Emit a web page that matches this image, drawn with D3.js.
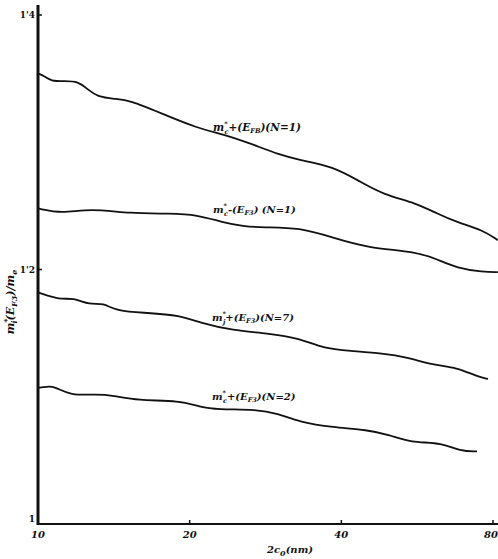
<!DOCTYPE html>
<html>
<head>
<meta charset="utf-8">
<script src="https://cdn.jsdelivr.net/npm/d3@7"></script>
<style>
  body { margin: 0; background: #fff; }
  svg { display: block; }
  .lbl { font-family: "DejaVu Serif", serif; font-style: italic; font-weight: bold; fill: #111; }
  .line { fill: none; stroke: #111; stroke-width: 1.8; }
</style>
</head>
<body>
<div id="chart"></div>
<script>
"use strict";

// tick values and labels
var xTicks = [10, 20, 40, 80],
    xTickLabels = ["10", "20", "40", "80"],
    yTicks = [1, 1.2, 1.4],
    yTickLabels = ["1", "1'2", "1'4"];

// curves: [2c0 (nm), m*/me]
var seriesN1plus = [[10, 1.354], [10.3, 1.352], [10.6, 1.348], [11.3, 1.348], [12.0, 1.348],
    [12.6, 1.341], [13.1, 1.336], [14.2, 1.334], [15.2, 1.333],
    [17.5, 1.323], [20.7, 1.311], [23.5, 1.306], [26.4, 1.299], [30.2, 1.290], [33.1, 1.286],
    [38.5, 1.281], [43.6, 1.269], [48.4, 1.259], [56.5, 1.252], [61.9, 1.244], [67.9, 1.237],
    [76.4, 1.231], [81.8, 1.223]];
var seriesN1minus = [[10, 1.248], [11.16, 1.244], [12.68, 1.248], [15.23, 1.244], [18.28, 1.244],
    [20.68, 1.243], [23.29, 1.237], [25.53, 1.234], [27.97, 1.233], [33.11, 1.233], [38.51, 1.225],
    [44.97, 1.217], [56.53, 1.214], [61.93, 1.208], [67.87, 1.201], [76.43, 1.198], [81.8, 1.198]];
var seriesN7 = [[10, 1.182], [11.06, 1.176], [11.73, 1.178], [12.68, 1.172], [13.46, 1.174],
    [14.35, 1.167], [16.46, 1.166], [19.14, 1.164], [20.97, 1.158], [24.38, 1.152], [28.48, 1.150],
    [33.11, 1.146], [36.78, 1.138], [41.61, 1.136], [48.4, 1.134], [54.0, 1.131], [60.81, 1.125],
    [67.87, 1.123], [74.36, 1.116], [78.2, 1.114]];
var seriesN2 = [[10, 1.107], [10.42, 1.108], [10.81, 1.108], [11.57, 1.101], [13.09, 1.102],
    [14.09, 1.101], [15.72, 1.097], [19.14, 1.097], [20.97, 1.092], [22.66, 1.090], [27.21, 1.090],
    [29.81, 1.087], [33.11, 1.080], [38.51, 1.076], [44.97, 1.074], [49.97, 1.070], [54.75, 1.064],
    [63.65, 1.064], [68.79, 1.057], [74.36, 1.057]];

// curve labels: subscript, sign, fermi subscript, N part
var curveLabels = [
    {sub: "c", mid: "+(E", fs: "FB", tail: ")(N=1)", x: 213, y: 131, size: 10.5},
    {sub: "c", mid: "-(E", fs: "F3", tail: ") (N=1)", x: 213, y: 213, size: 10},
    {sub: "j", mid: "+(E", fs: "F3", tail: ")(N=7)", x: 212, y: 321, size: 10},
    {sub: "c", mid: "+(E", fs: "F3", tail: ")(N=2)", x: 212, y: 400, size: 10}
];

var width = 498, height = 559;

var xScale = d3.scaleLog().base(2).domain([10, 80]).range([38, 493]);
var yScale = d3.scaleLinear().domain([1, 1.4]).range([524, 15]);

var svg = d3.select("#chart").append("svg")
    .attr("width", width)
    .attr("height", height);

// axes
svg.append("line")
    .attr("x1", xScale(10)).attr("x2", xScale(10))
    .attr("y1", 5).attr("y2", yScale(1) + 1)
    .attr("stroke", "#111").attr("stroke-width", 3);
svg.append("line")
    .attr("x1", xScale(10) - 1).attr("x2", 498)
    .attr("y1", yScale(1)).attr("y2", yScale(1))
    .attr("stroke", "#111").attr("stroke-width", 2.2);

// x ticks
svg.selectAll(".xtick").data(xTicks.slice(1))
    .enter().append("line")
    .attr("class", "xtick")
    .attr("x1", function(d) { return xScale(d); })
    .attr("x2", function(d) { return xScale(d); })
    .attr("y1", yScale(1)).attr("y2", yScale(1) - 4)
    .attr("stroke", "#111").attr("stroke-width", 1.5);
svg.selectAll(".xlab").data(xTicks)
    .enter().append("text")
    .attr("class", "lbl")
    .attr("x", function(d) { return d === 80 ? xScale(d) - 2 : xScale(d); })
    .attr("y", 538)
    .attr("text-anchor", "middle")
    .style("font-size", "10px")
    .text(function(d, i) { return xTickLabels[i]; });

// y ticks
svg.selectAll(".ytick").data(yTicks.slice(1))
    .enter().append("line")
    .attr("class", "ytick")
    .attr("x1", xScale(10)).attr("x2", xScale(10) + 4)
    .attr("y1", function(d) { return yScale(d); })
    .attr("y2", function(d) { return yScale(d); })
    .attr("stroke", "#111").attr("stroke-width", 1.5);
svg.selectAll(".ylab").data(yTicks)
    .enter().append("text")
    .attr("class", "lbl")
    .attr("x", 35)
    .attr("y", function(d) { return d === 1 ? yScale(d) - 2 : yScale(d) + 3; })
    .attr("text-anchor", "end")
    .style("font-style", "normal")
    .style("font-size", "9px")
    .text(function(d, i) { return yTickLabels[i]; });

// axis titles
var xt = svg.append("text")
    .attr("class", "lbl")
    .attr("x", 290).attr("y", 553)
    .attr("text-anchor", "middle")
    .style("font-size", "10px");
xt.append("tspan").text("2c");
xt.append("tspan").attr("dy", 3).style("font-size", "8px").text("0");
xt.append("tspan").attr("dy", -3).text("(nm)");

var yt = svg.append("text")
    .attr("class", "lbl")
    .attr("transform", "translate(14,302) rotate(-90)")
    .attr("text-anchor", "middle")
    .style("font-size", "11px");
yt.append("tspan").text("m");
yt.append("tspan").attr("dy", -5).style("font-size", "8px").text("*");
yt.append("tspan").attr("dx", -5).attr("dy", 8).style("font-size", "8px").text("i");
yt.append("tspan").attr("dy", -3).text("(E");
yt.append("tspan").attr("dy", 3).style("font-size", "8px").text("F3");
yt.append("tspan").attr("dy", -3).text(")/m");
yt.append("tspan").attr("dy", 3).style("font-size", "8px").text("e");

// curves
var line = d3.line()
    .x(function(d) { return xScale(d[0]); })
    .y(function(d) { return yScale(d[1]); })
    .curve(d3.curveBasis);

var allSeries = [seriesN1plus, seriesN1minus, seriesN7, seriesN2];
svg.selectAll(".line").data(allSeries)
    .enter().append("path")
    .attr("class", "line")
    .attr("d", line);

// curve labels
curveLabels.forEach(function(c) {
    var t = svg.append("text")
        .attr("class", "lbl")
        .attr("x", c.x).attr("y", c.y)
        .style("font-size", c.size + "px");
    t.append("tspan").text("m");
    t.append("tspan").attr("dy", -5).style("font-size", "6.5px").text("*");
    t.append("tspan").attr("dx", -3).attr("dy", 8).style("font-size", "6.5px").text(c.sub);
    t.append("tspan").attr("dy", -3).text(c.mid);
    t.append("tspan").attr("dy", 2).style("font-size", "6.5px").text(c.fs);
    t.append("tspan").attr("dy", -2).text(c.tail);
});
</script>
</body>
</html>
